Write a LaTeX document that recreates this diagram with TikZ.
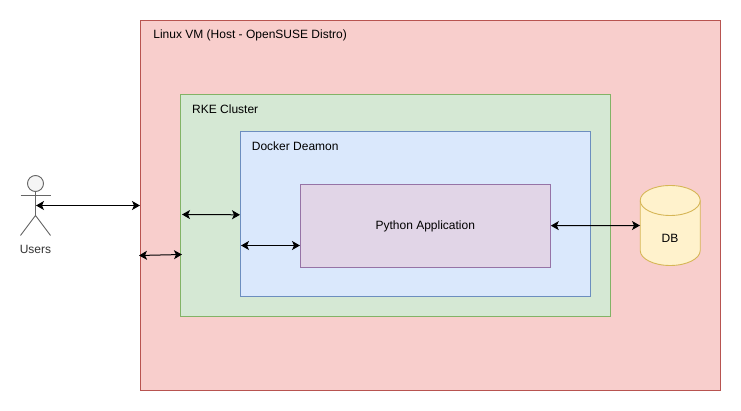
\documentclass[tikz,border=0pt]{standalone}
\usepackage{fontspec}
\setmainfont{Liberation Sans}
\usetikzlibrary{arrows.meta,shapes.geometric}
\definecolor{vmfill}{HTML}{F8CECC}\definecolor{vmline}{HTML}{B85450}
\definecolor{rkefill}{HTML}{D5E8D4}\definecolor{rkeline}{HTML}{82B366}
\definecolor{dockfill}{HTML}{DAE8FC}\definecolor{dockline}{HTML}{6C8EBF}
\definecolor{pyfill}{HTML}{E1D5E7}\definecolor{pyline}{HTML}{9673A6}
\definecolor{dbfill}{HTML}{FFF2CC}\definecolor{dbline}{HTML}{D6B656}
\definecolor{actorline}{HTML}{666666}\definecolor{actorfill}{HTML}{F5F5F5}\definecolor{actortext}{HTML}{333333}
\tikzset{
  box/.style={draw=#1line,fill=#1fill,line width=0.9pt,inner sep=0pt},
  lab/.style={font=\fontsize{12}{14}\selectfont,text=black,inner sep=0pt},
  link/.style={{Stealth[length=8pt,width=9pt,inset=2pt]}-{Stealth[length=8pt,width=9pt,inset=2pt]},line width=1pt,black},
  actor/.style={draw=actorline,line width=0.9pt}
}
\begin{document}
\begin{tikzpicture}[x=1pt,y=-1pt]
\useasboundingbox (0,0) rectangle (741,411);
\node[box=vm,minimum width=580pt,minimum height=370pt,anchor=north west] (vm) at (139.9,20.2) {};
\node[box=rke,minimum width=430pt,minimum height=222pt,anchor=north west] (rke) at (179.9,94.2) {};
\node[box=dock,minimum width=350pt,minimum height=165pt,anchor=north west] (dock) at (239.9,131.2) {};
\node[box=py,minimum width=250pt,minimum height=83pt,anchor=north west] (py) at (299.9,183.7) {};
\node[lab,anchor=west] (vmlab) at (153.2,35.7) {Linux VM (Host - OpenSUSE Distro)};
\node[lab,anchor=west] (rkelab) at (192,109.7) {RKE Cluster};
\node[lab,anchor=west] (docklab) at (251.7,146.7) {Docker Deamon};
\node[lab] (pylab) at (425.3,226.2) {Python Application};
% DB cylinder
\node[inner sep=0pt,minimum width=60pt,minimum height=80pt] (db) at (670.2,225.5) {};
\draw[draw=dbline,fill=dbfill,line width=0.9pt]
  (640.2,200.5) -- (640.2,250.5)
  .. controls (640.2,258.8) and (653.6,265.5) .. (670.2,265.5)
  .. controls (686.8,265.5) and (700.2,258.8) .. (700.2,250.5)
  -- (700.2,200.5)
  .. controls (700.2,192.2) and (686.8,185.5) .. (670.2,185.5)
  .. controls (653.6,185.5) and (640.2,192.2) .. (640.2,200.5) -- cycle;
\draw[draw=dbline,line width=0.9pt]
  (640.2,200.5)
  .. controls (640.2,208.8) and (653.6,215.5) .. (670.2,215.5)
  .. controls (686.8,215.5) and (700.2,208.8) .. (700.2,200.5);
\node[lab] (dblab) at (670,238.3) {DB};
% actor
\node[circle,draw=actorline,fill=actorfill,line width=0.9pt,minimum size=16pt,inner sep=0pt] (head) at (35.5,183.5) {};
\coordinate (neck) at (35.5,191.5);
\coordinate (hip) at (35.5,215.5);
\coordinate (armL) at (20.5,195.5);
\coordinate (armR) at (50.5,195.5);
\coordinate (legL) at (20.5,235.5);
\coordinate (legR) at (50.5,235.5);
\draw[actor] (neck) -- (hip);
\draw[actor] (armL) -- (armR);
\draw[actor] (legL) -- (hip) -- (legR);
\node[lab,text=actortext] (users) at (35.5,249.7) {Users};
% connectors
\coordinate (a1) at (36,205.5); \coordinate (a2) at (140,205.5);
\coordinate (b1) at (182,214.5); \coordinate (b2) at (240,214.8);
\coordinate (c1) at (139,255.5); \coordinate (c2) at (182,254.5);
\coordinate (d1) at (241,245.5); \coordinate (d2) at (300,245.5);
\draw[link] (a1) -- (a2);
\draw[link] (b1) -- (b2);
\draw[link] (c1) -- (c2);
\draw[link] (d1) -- (d2);
\draw[link] (py.east) -- (db.west);
\end{tikzpicture}
\end{document}
